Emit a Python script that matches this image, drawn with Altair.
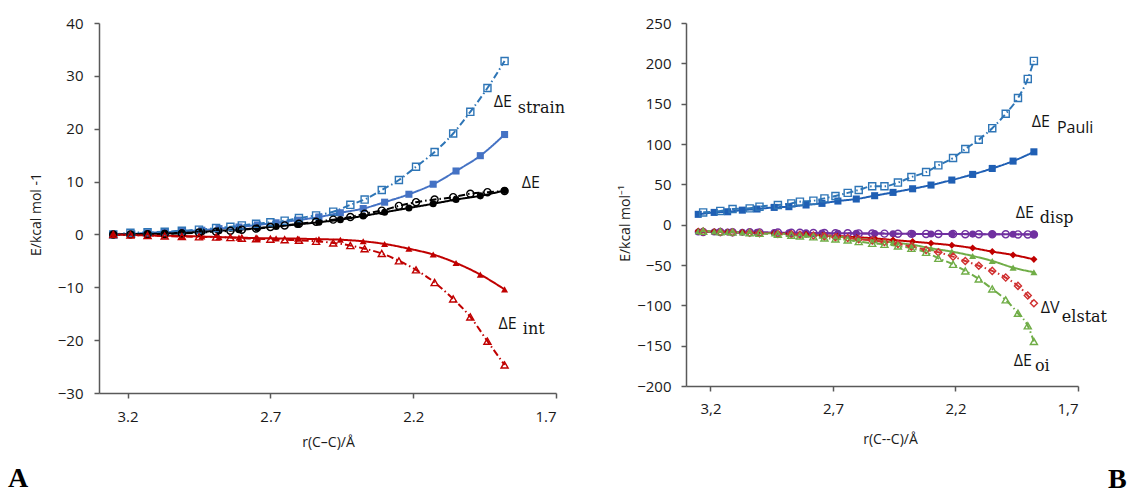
import altair as alt
import pandas as pd

# ---------------- data ----------------
# r(C-C) sampling of the filled-marker (solid line) series
x_solid = [3.25, 3.185, 3.13, 3.07, 3.01, 2.94, 2.88, 2.81, 2.745, 2.68,
           2.605, 2.53, 2.455, 2.375, 2.30, 2.215, 2.13, 2.05, 1.965, 1.88]
# r(C-C) sampling of the open-marker (dash-dot) series, panel A
x_open_A = [3.25, 3.19, 3.13, 3.07, 3.01, 2.95, 2.89, 2.84, 2.80, 2.75, 2.70, 2.65,
            2.60, 2.54, 2.48, 2.42, 2.37, 2.31, 2.25, 2.19, 2.125, 2.06, 2.00, 1.94, 1.88]
# r(C-C) sampling of the open-marker (dash-dot) series, panel B
x_open_B = [3.23, 3.16, 3.11, 3.04, 3.00, 2.925, 2.87, 2.835, 2.78, 2.735, 2.69, 2.64,
            2.595, 2.54, 2.49, 2.435, 2.38, 2.32, 2.27, 2.21, 2.16, 2.105, 2.05, 1.995,
            1.945, 1.905, 1.88]

# Panel A
strain_solid = [0, 0.1, 0.3, 0.4, 0.6, 0.8, 1.1, 1.4, 1.8, 2.2, 2.7, 3.3, 4.1, 4.9,
                6.1, 7.6, 9.5, 12.0, 14.9, 18.9]
dE_solid = [0, 0.05, 0.1, 0.2, 0.3, 0.5, 0.7, 0.9, 1.2, 1.5, 1.9, 2.3, 2.8, 3.5,
            4.2, 5.0, 5.8, 6.6, 7.3, 8.3]
int_solid = [0, -0.1, -0.2, -0.25, -0.3, -0.4, -0.5, -0.6, -0.7, -0.75, -0.8, -0.9,
             -1.0, -1.3, -1.8, -2.7, -3.8, -5.4, -7.6, -10.4]
strain_open = [0, 0.3, 0.4, 0.5, 0.7, 0.9, 1.2, 1.45, 1.7, 2.0, 2.3, 2.6, 3.1, 3.6,
               4.3, 5.6, 6.6, 8.4, 10.3, 12.8, 15.6, 19.1, 23.2, 27.7, 32.8]
dE_open = [0, 0, 0.05, 0.1, 0.2, 0.35, 0.5, 0.7, 0.9, 1.1, 1.4, 1.7, 2.0, 2.4, 2.8,
           3.3, 3.9, 4.5, 5.4, 6.1, 6.6, 7.05, 7.7, 8.0, 8.2]
int_open = [0, -0.1, -0.2, -0.3, -0.4, -0.45, -0.5, -0.6, -0.7, -0.8, -0.9, -1.0,
            -1.1, -1.3, -1.6, -2.1, -2.7, -3.6, -5.0, -6.7, -9.1, -12.2, -15.6, -20.2, -24.7]

# Panel B
pauli_solid = [12.8, 15.2, 16, 18, 19.4, 21.4, 22.3, 24.4, 26.4, 29.3, 31.8, 35.9,
               40, 44.5, 49.1, 55.3, 62.3, 69.7, 78.8, 90.3]
disp_solid = [-9, -9, -9.2, -9.4, -9.6, -9.8, -10, -10.2, -10.4, -10.6, -10.8, -11,
              -11.2, -11.4, -11.5, -11.6, -11.7, -11.8, -11.9, -12]
elstat_solid = [-8, -8.5, -9, -9.5, -10, -10.5, -11, -12, -13, -14, -15.5, -17,
                -19, -21, -23, -25.5, -29, -33.4, -37.5, -43]
oi_solid = [-8, -8.5, -9, -9.5, -10, -10.8, -11.5, -12.5, -13.5, -15, -17, -19.5,
            -22, -25, -29.3, -33.4, -38.8, -45, -53.2, -59]
pauli_open = [15.2, 17, 19.4, 20.2, 22.3, 24.4, 26.4, 28.5, 29.7, 32.6, 35.5, 39.4,
              43, 47.6, 47.6, 52.2, 59, 65.2, 73.5, 82.6, 93.8, 105.4, 119.6, 137.5,
              157, 180.7, 203]
disp_open = [-9, -9.1, -9.3, -9.5, -9.6, -9.8, -10, -10.1, -10.3, -10.4, -10.6, -10.7,
             -10.9, -11, -11.1, -11.3, -11.4, -11.5, -11.6, -11.7, -11.8, -11.9, -12,
             -12, -12.1, -12.1, -12.2]
elstat_open = [-8.5, -9, -9.5, -10, -10.5, -11.5, -12, -12.5, -13.5, -14.5, -15.5,
               -16.5, -18, -19.5, -21.5, -24, -27.2, -31.3, -34.3, -39.6, -45, -51,
               -57.3, -65.6, -75.9, -87.9, -97.4]
oi_open = [-8, -8.8, -9.2, -10, -10.7, -12, -13, -14, -15, -16.5, -17.7, -19, -21,
           -23.1, -24.4, -26.4, -29.3, -34.3, -41.7, -49.1, -57.3, -67.2, -79.6,
           -93.2, -109.8, -125.4, -144.8]

# axis ticks
x_ticks = [3.2, 2.7, 2.2, 1.7]
yA_ticks = [-30, -20, -10, 0, 10, 20, 30, 40]
yB_ticks = [-200, -150, -100, -50, 0, 50, 100, 150, 200, 250]

# curve labels
labA_main = ["ΔE", "ΔE", "ΔE"]
labA_sub = ["strain", "int"]
labB_main = ["ΔE", "ΔE", "ΔV", "ΔE"]
labB_sub_sans = ["Pauli"]
labB_sub_serif = ["disp", "elstat", "oi"]


def frame(xs, ys, name, kind):
    return pd.DataFrame({"x": xs, "y": ys, "series": name, "kind": kind})


data_A = pd.concat([
    frame(x_solid, strain_solid, "strain_s", "solid"),
    frame(x_solid, dE_solid, "dE_s", "solid"),
    frame(x_solid, int_solid, "int_s", "solid"),
    frame(x_open_A, strain_open, "strain_o", "open"),
    frame(x_open_A, dE_open, "dE_o", "open"),
    frame(x_open_A, int_open, "int_o", "open"),
], ignore_index=True)

data_B = pd.concat([
    frame(x_solid, pauli_solid, "pauli_s", "solid"),
    frame(x_solid, disp_solid, "disp_s", "solid"),
    frame(x_solid, elstat_solid, "elstat_s", "solid"),
    frame(x_solid, oi_solid, "oi_s", "solid"),
    frame(x_open_B, pauli_open, "pauli_o", "open"),
    frame(x_open_B, disp_open, "disp_o", "open"),
    frame(x_open_B, elstat_open, "elstat_o", "open"),
    frame(x_open_B, oi_open, "oi_o", "open"),
], ignore_index=True)

# ---------------- styling ----------------
SANS = "Open Sans"
SERIF = "DejaVu Serif"
INK = "#141414"
AXIS_STYLE = dict(
    grid=False, domainColor="#595959", domainWidth=1.5, tickColor="#595959",
    tickWidth=1.5, tickSize=5, labelFont=SANS, labelFontSize=15, labelColor="#1a1a1a",
    titleFont=SANS, titleFontSize=14, titleColor="#1a1a1a", titleFontWeight="normal",
    titleBaseline="middle",
)
DASH = alt.Scale(domain=["solid", "open"], range=[[1, 0], [7, 3, 1.5, 3]])


def panel(df, sdomain, scolors, sshapes, w, h, ydom, yticks, ytitle, ytx, yty,
          xtitle, xtx, xty, xexpr, pad, mains, subs_sans, subs_serif, letter, lx, ly):
    xs = alt.Scale(domain=[1.7, 3.3], reverse=True, nice=False, zero=False)
    ys = alt.Scale(domain=ydom, nice=False, zero=False)
    xaxis = alt.Axis(values=x_ticks, labelExpr=xexpr, title=xtitle, titleX=xtx,
                     titleY=xty, labelPadding=pad, **AXIS_STYLE)
    yaxis = alt.Axis(values=yticks, title=ytitle, titleX=ytx, titleY=yty,
                     titleAngle=-90, labelPadding=pad, **AXIS_STYLE)
    color = alt.Color("series:N", scale=alt.Scale(domain=sdomain, range=scolors), legend=None)
    shape = alt.Shape("series:N", scale=alt.Scale(domain=sdomain, range=sshapes), legend=None)
    base = alt.Chart(df)
    lines = base.mark_line(strokeWidth=2, interpolate="monotone").encode(
        x=alt.X("x:Q", scale=xs, axis=xaxis),
        y=alt.Y("y:Q", scale=ys, axis=yaxis),
        color=color,
        strokeDash=alt.StrokeDash("kind:N", scale=DASH, legend=None),
        detail="series:N",
    )
    filled = base.transform_filter(alt.datum.kind == "solid").mark_point(
        filled=True, size=50, opacity=1).encode(x="x:Q", y="y:Q", color=color, shape=shape)
    hollow = base.transform_filter(alt.datum.kind == "open").mark_point(
        filled=False, size=50, opacity=1, strokeWidth=1.4).encode(
        x="x:Q", y="y:Q", color=color, shape=shape)
    layers = [lines, filled, hollow]
    txt = dict(align="left", baseline="middle", color=INK)
    layers.append(alt.Chart(mains).mark_text(font=SANS, fontSize=16, **txt).encode(
        x="x:Q", y="y:Q", text="text:N"))
    if subs_sans is not None:
        layers.append(alt.Chart(subs_sans).mark_text(font=SANS, fontSize=16, **txt).encode(
            x="x:Q", y="y:Q", text="text:N"))
    layers.append(alt.Chart(subs_serif).mark_text(font=SERIF, fontSize=16, **txt).encode(
        x="x:Q", y="y:Q", text="text:N"))
    layers.append(alt.Chart(pd.DataFrame({"t": [letter]})).mark_text(
        font="Liberation Serif", fontSize=28, fontWeight="bold", align="left",
        baseline="alphabetic", color="#000").encode(
        text="t:N", x=alt.value(lx), y=alt.value(ly)))
    return alt.layer(*layers).properties(width=w, height=h)


mainsA = pd.DataFrame({"text": labA_main, "x": [1.918, 1.820, 1.901], "y": [25.1, 9.8, -17.0]})
subsA = pd.DataFrame({"text": labA_sub, "x": [1.834, 1.816], "y": [24.0, -17.8]})
mainsB = pd.DataFrame({"text": labB_main, "x": [1.889, 1.954, 1.852, 1.962],
                       "y": [127.5, 14.9, -102.7, -169.6]})
subsB_sans = pd.DataFrame({"text": labB_sub_sans, "x": [1.786], "y": [120.0]})
subsB_serif = pd.DataFrame({"text": labB_sub_serif, "x": [1.856, 1.766, 1.876],
                            "y": [8.7, -113.9, -175.7]})

left = panel(
    data_A,
    ["strain_s", "dE_s", "int_s", "strain_o", "dE_o", "int_o"],
    ["#4472C4", "#000000", "#C00000", "#2E75B6", "#000000", "#C00000"],
    ["square", "circle", "triangle-up", "square", "circle", "triangle-up"],
    457, 370, [-30, 40], yA_ticks, "E/kcal mol -1", -63, 191,
    "r(C\u2013C)/\u00c5", 229, 49, "format(datum.value, '.1f')", 11,
    mainsA, None, subsA, "A", -91, 464,
)
right = panel(
    data_B,
    ["pauli_s", "disp_s", "elstat_s", "oi_s", "pauli_o", "disp_o", "elstat_o", "oi_o"],
    ["#1F5FB4", "#7030A0", "#C00000", "#70AD47", "#2E75B6", "#7030A0", "#D03030", "#70AD47"],
    ["square", "circle", "diamond", "triangle-up", "square", "circle", "diamond", "triangle-up"],
    392, 363, [-200, 250], yB_ticks, "E/kcal mol\u207b\u00b9", -61, 200,
    "r(C--C)/\u00c5", 204, 53, "replace(format(datum.value, '.1f'), '.', ',')", 10,
    mainsB, subsB_sans, subsB_serif, "B", 422, 465,
)

chart = alt.hconcat(left, right, spacing=53).resolve_scale(
    color="independent", shape="independent", strokeDash="independent",
).properties(
    padding={"left": 8, "top": 16, "right": 0, "bottom": 0},
    background="white",
).configure_view(stroke=None)

chart.save("out.html", embed_options={"renderer": "svg", "actions": False})
